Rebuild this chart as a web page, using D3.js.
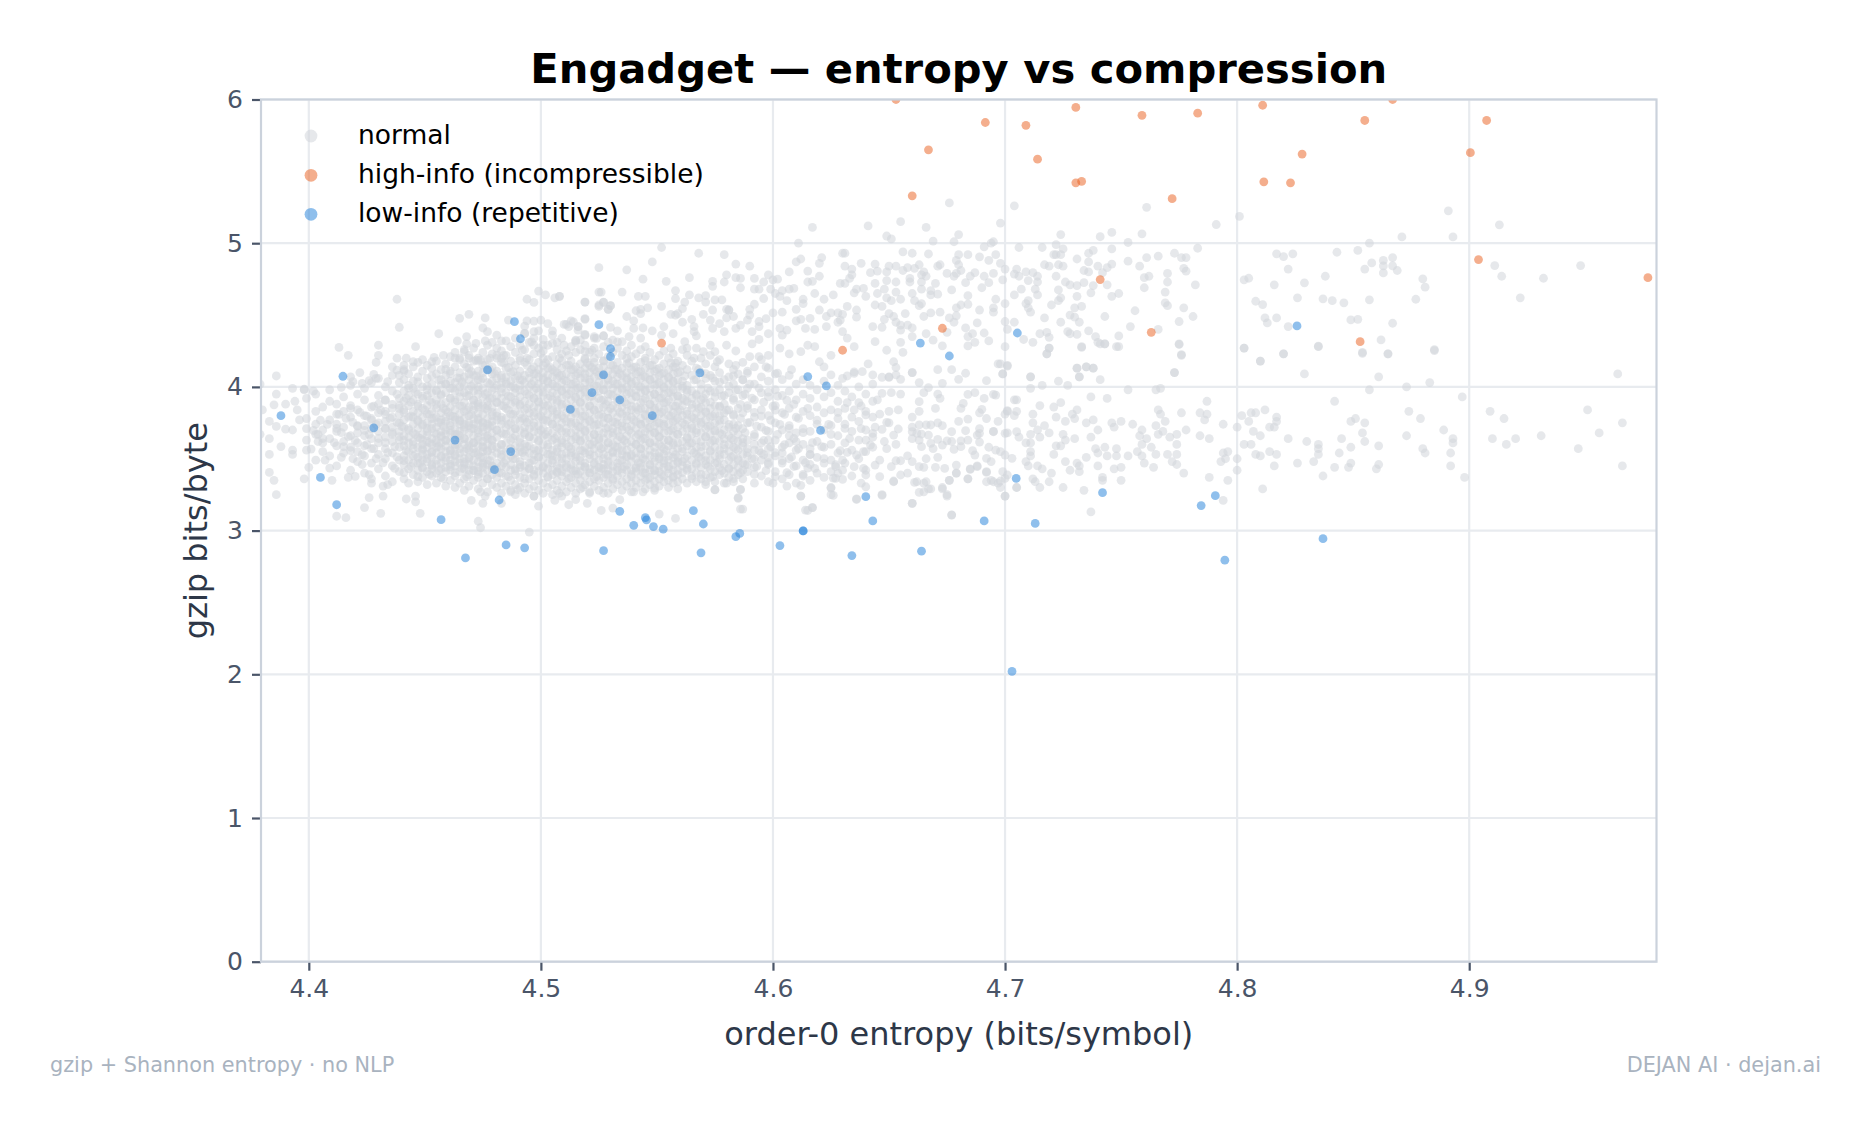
<!DOCTYPE html>
<html>
<head>
<meta charset="utf-8">
<title>Engadget — entropy vs compression</title>
<script src="https://cdn.jsdelivr.net/npm/d3@7"></script>
<style>
  html, body { margin: 0; padding: 0; background: #fff; }
  svg { display: block; }
  text { font-family: "DejaVu Sans", sans-serif; }
</style>
</head>
<body>
<svg id="chart" width="1871" height="1126"></svg>
<script>
// Axis ticks and labels
const xTicks = [4.4, 4.5, 4.6, 4.7, 4.8, 4.9];
const yTicks = [0, 1, 2, 3, 4, 5, 6];
const chartTitle = "Engadget — entropy vs compression";
const xLabel = "order-0 entropy (bits/symbol)";
const yLabel = "gzip bits/byte";
const footLeft = "gzip + Shannon entropy · no NLP";
const footRight = "DEJAN AI · dejan.ai";
const legendLabels = ["normal", "high-info (incompressible)", "low-info (repetitive)"];

// Flagged documents as [entropy, gzip]
const highInfo = [[4.653,6.0],[4.6915,5.84],[4.667,5.65],[4.66,5.33],[4.709,5.82],[4.7305,5.945],[4.714,5.585],[4.7305,5.42],[4.733,5.43],[4.759,5.89],[4.783,5.905],[4.772,5.31],[4.811,5.96],[4.867,6.0],[4.855,5.854],[4.828,5.62],[4.8115,5.427],[4.823,5.42],[4.9075,5.854],[4.9005,5.63],[4.904,4.886],[4.977,4.76],[4.741,4.747],[4.763,4.38],[4.853,4.315],[4.673,4.408],[4.63,4.255],[4.552,4.305]];
const lowInfo = [[4.388,3.8],[4.4147,4.074],[4.428,3.715],[4.405,3.37],[4.412,3.18],[4.477,4.118],[4.463,3.63],[4.487,3.55],[4.48,3.424],[4.482,3.213],[4.457,3.076],[4.485,2.9],[4.493,2.88],[4.4675,2.81],[4.5127,3.843],[4.522,3.96],[4.527,4.083],[4.534,3.91],[4.548,3.8],[4.53,4.21],[4.53,4.266],[4.4912,4.335],[4.4886,4.454],[4.525,4.433],[4.5685,4.097],[4.534,3.134],[4.54,3.037],[4.545,3.09],[4.5455,3.074],[4.5485,3.028],[4.5527,3.01],[4.527,2.86],[4.5657,3.139],[4.57,3.046],[4.569,2.845],[4.584,2.958],[4.5857,2.98],[4.603,2.896],[4.613,2.998],[4.613,2.998],[4.615,4.072],[4.623,4.007],[4.6205,3.697],[4.6635,4.305],[4.676,4.215],[4.7048,3.363],[4.742,3.264],[4.7906,3.243],[4.7845,3.174],[4.837,2.944],[4.7947,2.794],[4.64,3.236],[4.643,3.067],[4.691,3.067],[4.713,3.05],[4.634,2.826],[4.664,2.857],[4.7053,4.375],[4.8258,4.424],[4.703,2.02]];

// Ordinary documents, sparse upper band
const normalUpper = [[4.676,5.28],[4.704,5.26],[4.761,5.25],[4.791,5.13],[4.655,5.15],[4.666,5.11],[4.698,5.14],[4.649,5.05],[4.651,5.03],[4.669,5.015],[4.68,5.06],[4.678,5.01],[4.695,5.01],[4.694,5.0],[4.691,4.975],[4.706,4.97],[4.716,4.97],[4.722,4.99],[4.724,5.06],[4.725,4.96],[4.741,5.045],[4.746,5.075],[4.753,5.005],[4.759,5.065],[4.783,4.965],[4.656,4.94],[4.66,4.93],[4.667,4.925],[4.68,4.92],[4.684,4.92],[4.679,4.88],[4.689,4.905],[4.696,4.92],[4.693,4.88],[4.721,4.92],[4.722,4.92],[4.724,4.92],[4.731,4.89],[4.736,4.93],[4.738,4.95],[4.746,4.96],[4.753,4.875],[4.761,4.9],[4.766,4.91],[4.773,4.93],[4.776,4.9],[4.778,4.9],[4.698,4.86],[4.7,4.82],[4.705,4.82],[4.717,4.85],[4.719,4.84],[4.723,4.85],[4.725,4.84],[4.736,4.87],[4.74,4.84],[4.746,4.855],[4.744,4.83],[4.758,4.84],[4.734,4.81],[4.736,4.8],[4.742,4.795],[4.777,4.825],[4.778,4.805],[4.77,4.79],[4.762,4.77],[4.76,4.76],[4.65,4.84],[4.653,4.84],[4.658,4.83],[4.663,4.85],[4.672,4.85],[4.671,4.84],[4.661,4.825],[4.656,4.81],[4.649,4.8],[4.665,4.8],[4.675,4.79],[4.68,4.85],[4.681,4.81],[4.687,4.795],[4.679,4.79],[4.691,4.77],[4.695,4.79],[4.704,4.785],[4.706,4.77],[4.709,4.8],[4.712,4.795],[4.714,4.77],[4.71,4.74],[4.714,4.73],[4.722,4.77],[4.726,4.73],[4.728,4.71],[4.731,4.705],[4.734,4.725],[4.738,4.705],[4.744,4.71],[4.77,4.73],[4.769,4.66],[4.76,4.69],[4.782,4.71],[4.659,4.755],[4.664,4.78],[4.666,4.77],[4.664,4.73],[4.659,4.73],[4.67,4.72],[4.653,4.73],[4.649,4.74],[4.678,4.77],[4.677,4.675],[4.685,4.77],[4.683,4.725],[4.69,4.69],[4.693,4.725],[4.699,4.745],[4.648,4.68],[4.664,4.68],[4.653,4.66],[4.66,4.65],[4.668,4.67],[4.668,4.64],[4.671,4.645],[4.684,4.635],[4.681,4.57],[4.684,4.575],[4.696,4.61],[4.7,4.58],[4.707,4.68],[4.704,4.64],[4.71,4.6],[4.713,4.68],[4.714,4.64],[4.723,4.675],[4.724,4.62],[4.723,4.6],[4.72,4.57],[4.731,4.63],[4.737,4.655],[4.746,4.63],[4.749,4.65],[4.733,4.56],[4.73,4.55],[4.709,4.58],[4.71,4.55],[4.711,4.52],[4.649,4.62],[4.651,4.6],[4.655,4.61],[4.661,4.6],[4.664,4.58],[4.663,4.565],[4.647,4.56],[4.769,4.585],[4.77,4.565],[4.777,4.55],[4.756,4.53],[4.65,4.51],[4.657,4.51],[4.668,4.515],[4.672,4.52],[4.679,4.55],[4.689,4.535],[4.695,4.55],[4.695,4.52],[4.652,4.49],[4.648,4.47],[4.665,4.49],[4.676,4.48],[4.679,4.495],[4.678,4.45],[4.728,4.5],[4.73,4.485],[4.732,4.45],[4.724,4.45],[4.717,4.48],[4.743,4.49],[4.775,4.455],[4.781,4.49],[4.7,4.455],[4.704,4.45],[4.688,4.445],[4.653,4.45],[4.655,4.43],[4.658,4.43],[4.701,4.4],[4.683,4.41],[4.675,4.38],[4.655,4.395],[4.66,4.41],[4.647,4.415],[4.715,4.37],[4.718,4.38],[4.719,4.345],[4.708,4.33],[4.712,4.31],[4.727,4.385],[4.728,4.37],[4.731,4.365],[4.736,4.39],[4.739,4.35],[4.741,4.3],[4.743,4.3],[4.749,4.355],[4.754,4.42],[4.766,4.4],[4.691,4.375],[4.686,4.37],[4.684,4.35],[4.687,4.31],[4.684,4.285],[4.693,4.32],[4.7,4.28],[4.666,4.37],[4.66,4.35],[4.669,4.325],[4.673,4.285],[4.655,4.31],[4.649,4.255],[4.656,4.24],[4.719,4.27],[4.718,4.23],[4.733,4.275],[4.748,4.28],[4.775,4.295],[4.776,4.225],[4.698,4.16],[4.701,4.145],[4.731,4.13],[4.735,4.14],[4.738,4.13],[4.652,4.175],[4.653,4.135],[4.66,4.1],[4.671,4.12],[4.677,4.12],[4.683,4.095],[4.65,4.07],[4.699,4.09],[4.711,4.07],[4.732,4.07],[4.773,4.1],
[4.552,4.97],[4.548,4.87],[4.568,4.93],[4.579,4.92],[4.584,4.855],[4.59,4.84],[4.525,4.83],[4.537,4.815],[4.544,4.75],[4.554,4.735],[4.564,4.76],[4.574,4.735],[4.574,4.7],[4.58,4.78],[4.579,4.73],[4.584,4.76],[4.586,4.755],[4.586,4.69],[4.592,4.755],[4.592,4.68],[4.594,4.68],[4.596,4.73],[4.598,4.78],[4.599,4.68],[4.6,4.745],[4.602,4.75],[4.611,5.0],[4.617,5.11],[4.641,5.12],[4.61,4.87],[4.612,4.89],[4.621,4.9],[4.62,4.86],[4.63,4.93],[4.631,4.93],[4.607,4.8],[4.615,4.806],[4.62,4.77],[4.615,4.73],[4.617,4.735],[4.631,4.84],[4.634,4.82],[4.638,4.86],[4.644,4.855],[4.642,4.795],[4.645,4.806],[4.634,4.78],[4.633,4.755],[4.629,4.72],[4.631,4.72],[4.604,4.67],[4.601,4.65],[4.603,4.63],[4.607,4.68],[4.609,4.685],[4.618,4.65],[4.622,4.61],[4.626,4.64],[4.635,4.655],[4.636,4.68],[4.639,4.685],[4.64,4.63],[4.644,4.72],[4.645,4.65],[4.606,4.6],[4.613,4.61],[4.613,4.58],[4.61,4.54],[4.62,4.535],[4.604,4.52],[4.625,4.515],[4.628,4.515],[4.632,4.56],[4.63,4.505],[4.636,4.535],[4.636,4.485],[4.644,4.57],[4.596,4.615],[4.592,4.575],[4.59,4.54],[4.581,4.535],[4.578,4.605],[4.575,4.605],[4.571,4.59],[4.568,4.62],[4.571,4.635],[4.564,4.64],[4.562,4.59],[4.558,4.67],[4.558,4.615],[4.545,4.63],[4.542,4.63],[4.535,4.66],[4.526,4.66],[4.519,4.59],[4.527,4.59],[4.525,4.56],[4.53,4.565],[4.529,4.54],[4.508,4.63],[4.546,4.55],[4.543,4.54],[4.541,4.53],[4.543,4.51],[4.552,4.56],[4.561,4.545],[4.556,4.505],[4.558,4.5],[4.559,4.51],[4.574,4.535],[4.57,4.505],[4.58,4.54],[4.581,4.535],[4.583,4.49],[4.58,4.48],[4.59,4.5],[4.589,4.465],[4.586,4.43],[4.594,4.455],[4.597,4.475],[4.6,4.515],[4.537,4.49],[4.54,4.46],[4.519,4.475],[4.511,4.435],[4.513,4.46],[4.516,4.42],[4.565,4.47],[4.561,4.45],[4.573,4.465],[4.53,4.414],[4.533,4.39],[4.54,4.407],[4.544,4.41],[4.548,4.39],[4.553,4.42],[4.557,4.37],[4.552,4.36],[4.566,4.42],[4.566,4.385],[4.567,4.355],[4.574,4.407],[4.577,4.44],[4.579,4.385],[4.584,4.407],[4.591,4.385],[4.594,4.42],[4.598,4.37],[4.603,4.407],[4.606,4.395],[4.604,4.36],[4.61,4.46],[4.612,4.47],[4.614,4.407],[4.616,4.477],[4.618,4.4],[4.623,4.42],[4.623,4.49],[4.628,4.45],[4.63,4.385],[4.632,4.34],[4.629,4.465],[4.635,4.28],[4.643,4.42],[4.644,4.315],[4.562,4.315],[4.563,4.27],[4.543,4.34],[4.538,4.35],[4.523,4.34],[4.515,4.32],[4.519,4.36],[4.527,4.355],[4.531,4.325],[4.535,4.315],[4.545,4.28],[4.556,4.27],[4.558,4.165],[4.57,4.245],[4.573,4.29],[4.575,4.245],[4.58,4.29],[4.584,4.25],[4.591,4.3],[4.594,4.33],[4.59,4.21],[4.594,4.21],[4.598,4.22],[4.603,4.27],[4.607,4.23],[4.612,4.245],[4.615,4.29],[4.618,4.28],[4.625,4.22],[4.566,4.2],[4.576,4.175],[4.584,4.15],[4.589,4.095],[4.597,4.14],[4.602,4.095],[4.608,4.12],[4.62,4.175],[4.622,4.14],[4.635,4.105],[4.641,4.16],
[4.438,4.61],[4.439,4.415],[4.413,4.275],[4.417,4.22],[4.43,4.29],[4.43,4.22],[4.429,4.17],[4.446,4.28],[4.456,4.37],[4.438,4.2],[4.442,4.2],[4.445,4.175],[4.449,4.19],[4.454,4.205],[4.453,4.175],[4.458,4.22],[4.465,4.477],[4.469,4.505],[4.476,4.48],[4.475,4.41],[4.477,4.384],[4.481,4.36],[4.483,4.32],[4.476,4.32],[4.472,4.303],[4.468,4.35],[4.464,4.32],[4.468,4.3],[4.467,4.245],[4.463,4.2],[4.465,4.2],[4.469,4.2],[4.472,4.187],[4.474,4.187],[4.436,4.14],[4.438,4.117],[4.441,4.11],[4.439,4.08],[4.441,4.15],[4.494,4.61],[4.497,4.588],[4.499,4.667],[4.502,4.64],[4.506,4.62],[4.508,4.63],[4.519,4.59],[4.525,4.57],[4.529,4.54],[4.53,4.565],[4.527,4.588],[4.525,4.66],[4.486,4.465],[4.494,4.46],[4.497,4.458],[4.5,4.465],[4.503,4.44],[4.51,4.435],[4.512,4.42],[4.514,4.453],[4.516,4.42],[4.519,4.47],[4.516,4.395],[4.519,4.365],[4.493,4.423],[4.497,4.384],[4.505,4.39],[4.493,4.372],[4.492,4.256],[4.494,4.2],[4.496,4.314],[4.497,4.29],[4.501,4.29],[4.505,4.303],[4.51,4.29],[4.515,4.326],[4.517,4.326],[4.523,4.35],[4.524,4.338],[4.527,4.356],[4.533,4.314],[4.5,4.233],[4.508,4.2],[4.512,4.22],[4.519,4.245],[4.522,4.256],[4.523,4.2],[4.478,4.2],[4.481,4.22],[4.484,4.22]];

// Ordinary documents, sparse band on the high-entropy side
const normalRight = [[4.964,4.09],[4.909,3.83],[4.915,3.78],[4.951,3.84],[4.966,3.75],[4.956,3.68],[4.91,3.64],[4.916,3.6],[4.92,3.64],[4.931,3.66],[4.947,3.57],[4.966,3.45],[4.897,3.93],[4.883,4.03],[4.873,4.0],[4.857,3.98],[4.842,3.9],[4.861,4.07],[4.829,4.09],[4.885,4.26],[4.865,4.23],[4.854,4.24],[4.835,4.28],[4.82,4.23],[4.81,4.18],[4.803,4.27],[4.776,4.22],[4.775,4.3],[4.773,4.1],[4.874,3.83],[4.879,3.78],[4.889,3.7],[4.873,3.66],[4.893,3.64],[4.893,3.61],[4.88,3.57],[4.881,3.54],[4.892,3.54],[4.892,3.45],[4.898,3.37],[4.861,3.59],[4.855,3.62],[4.854,3.68],[4.855,3.75],[4.851,3.78],[4.849,3.76],[4.861,3.46],[4.86,3.43],[4.849,3.47],[4.848,3.44],[4.842,3.44],[4.837,3.38],[4.845,3.64],[4.849,3.58],[4.844,3.54],[4.835,3.6],[4.835,3.57],[4.835,3.53],[4.833,3.48],[4.826,3.47],[4.83,3.62],[4.822,3.64],[4.817,3.79],[4.817,3.76],[4.816,3.72],[4.814,3.72],[4.812,3.84],[4.808,3.82],[4.806,3.82],[4.802,3.8],[4.805,3.76],[4.807,3.69],[4.81,3.66],[4.803,3.6],[4.806,3.6],[4.814,3.55],[4.817,3.53],[4.808,3.53],[4.81,3.52],[4.816,3.45],[4.8,3.5],[4.8,3.42],[4.796,3.35],[4.788,3.37],[4.794,3.21],[4.811,3.29],[4.737,3.13],[4.794,3.54],[4.796,3.55],[4.795,3.5],[4.793,3.48],[4.8,3.72],[4.794,3.74],[4.788,3.64],[4.784,3.66],[4.786,3.77],[4.787,3.81],[4.784,3.82],[4.787,3.9],[4.776,3.82],[4.778,3.7],[4.766,3.84],[4.767,3.81],[4.769,3.76],[4.767,3.99],[4.765,3.98],[4.753,3.98],[4.744,3.92],[4.737,3.93],[4.724,3.89],[4.721,3.86],[4.715,3.87],[4.704,3.91],[4.716,4.01],[4.711,3.99],[4.727,4.01],[4.723,4.04],[4.732,4.07],[4.741,4.05],[4.711,4.07],[4.731,4.13],[4.735,4.14],[4.738,4.13],[4.718,4.23],[4.719,4.27],[4.733,4.28],[4.74,4.31],[4.743,4.3],[4.749,4.28],[4.701,4.15],[4.697,4.16],[4.699,4.09],[4.712,3.81],[4.705,3.83],[4.704,3.8],[4.701,3.83],[4.697,3.76],[4.692,3.78],[4.731,3.84],[4.729,3.81],[4.726,3.76],[4.722,3.79],[4.717,3.73],[4.712,3.75],[4.73,3.78],[4.735,3.75],[4.738,3.77],[4.74,3.7],[4.746,3.75],[4.75,3.76],[4.755,3.74],[4.747,3.72],[4.759,3.7],[4.758,3.66],[4.761,3.64],[4.766,3.67],[4.768,3.69],[4.771,3.65],[4.774,3.67],[4.765,3.73],[4.725,3.67],[4.714,3.7],[4.711,3.67],[4.706,3.65],[4.701,3.68],[4.695,3.69],[4.689,3.71],[4.719,3.68],[4.715,3.65],[4.726,3.63],[4.73,3.64],[4.737,3.65],[4.722,3.59],[4.724,3.59],[4.711,3.61],[4.709,3.61],[4.711,3.55],[4.711,3.52],[4.721,3.53],[4.739,3.57],[4.743,3.58],[4.74,3.54],[4.744,3.52],[4.748,3.57],[4.748,3.52],[4.753,3.52],[4.757,3.55],[4.763,3.58],[4.759,3.6],[4.759,3.52],[4.765,3.53],[4.77,3.53],[4.774,3.6],[4.774,3.53],[4.76,3.47],[4.764,3.44],[4.772,3.48],[4.774,3.46],[4.777,3.4],[4.735,3.51],[4.732,3.45],[4.731,3.47],[4.728,3.42],[4.726,3.48],[4.732,3.41],[4.74,3.45],[4.747,3.43],[4.75,3.44],[4.742,3.37],[4.742,3.35],[4.75,3.35],[4.734,3.28],[4.725,3.3],[4.719,3.34],[4.72,3.4],[4.716,3.43],[4.714,3.45],[4.71,3.45],[4.709,3.48],[4.713,3.34],[4.712,3.36],[4.715,3.3],[4.705,3.3],[4.7,3.24],[4.697,3.33],[4.694,3.35],[4.692,3.41],[4.688,3.45],[4.685,3.43],[4.684,3.36],[4.676,3.35],[4.679,3.4],[4.677,3.11],[4.66,3.19],[4.647,3.25],[4.636,3.22],[4.675,3.25],[4.673,3.29],[4.668,3.29],[4.665,3.27],[4.666,3.34],[4.662,3.34],[4.652,3.34],
[4.801,5.186],[4.891,5.225],[4.913,5.128],[4.871,5.044],[4.893,5.044],[4.857,5.0],[4.852,4.95],[4.843,4.937],[4.817,4.926],[4.82,4.907],[4.824,4.926],[4.863,4.88],[4.867,4.9],[4.858,4.863],[4.863,4.842],[4.867,4.842],[4.869,4.81],[4.855,4.82],[4.863,4.793],[4.822,4.82],[4.838,4.77],[4.88,4.752],[4.829,4.724],[4.816,4.71],[4.805,4.756],[4.803,4.745],[4.881,4.694],[4.877,4.61],[4.857,4.606],[4.846,4.585],[4.841,4.6],[4.837,4.613],[4.826,4.62],[4.808,4.596],[4.811,4.573],[4.911,4.844],[4.914,4.77],[4.948,4.844],[4.932,4.756],[4.922,4.62],[4.812,4.48],[4.817,4.48],[4.813,4.445],[4.822,4.42],[4.849,4.466],[4.852,4.47],[4.867,4.443],[4.862,4.327],[4.835,4.283],[4.803,4.27],[4.82,4.23],[4.854,4.234],[4.865,4.23],[4.885,4.253],[4.81,4.18]];

// Ordinary documents, middle band and the lower and left edges of the cloud
const normalMiddle = [[4.625,4.083],[4.63,4.06],[4.632,4.076],[4.635,4.094],[4.6385,4.106],[4.643,4.083],[4.647,4.067],[4.65,4.067],[4.653,4.083],[4.655,4.053],[4.66,4.1],[4.68,4.053],[4.692,4.043],[4.632,3.89],[4.638,3.867],[4.635,3.84],[4.64,3.805],[4.646,3.81],[4.65,3.83],[4.654,3.84],[4.645,3.91],[4.647,3.955],[4.651,3.96],[4.655,3.95],[4.665,3.96],[4.667,3.995],[4.663,4.03],[4.673,4.025],[4.671,3.95],[4.672,3.92],[4.663,3.897],[4.67,3.85],[4.663,3.83],[4.66,3.79],[4.682,3.885],[4.681,3.85],[4.684,3.948],[4.687,3.96],[4.695,3.948],[4.696,3.943],[4.691,3.92],[4.705,3.91],[4.69,3.844],[4.689,3.82],[4.701,3.835],[4.7,3.81],[4.684,3.776],[4.68,3.76],[4.671,3.75],[4.668,3.735],[4.666,3.735],[4.663,3.735],[4.66,3.72],[4.673,3.73],[4.649,3.753],[4.65,3.75],[4.654,3.707],[4.647,3.705],[4.644,3.72],[4.66,3.688],[4.662,3.677],[4.664,3.672],[4.667,3.665],[4.677,3.688],[4.683,3.695],[4.689,3.677],[4.688,3.665],[4.695,3.688],[4.7,3.677],[4.705,3.688],[4.66,3.64],[4.663,3.63],[4.664,3.584],[4.668,3.607],[4.671,3.635],[4.675,3.625],[4.677,3.62],[4.681,3.625],[4.684,3.63],[4.689,3.616],[4.673,3.595],[4.669,3.57],[4.678,3.565],[4.681,3.584],[4.686,3.556],[4.687,3.526],[4.693,3.58],[4.696,3.56],[4.698,3.55],[4.7,3.526],[4.703,3.503],[4.692,3.503],[4.694,3.48],[4.653,3.6],[4.649,3.57],[4.652,3.665],[4.648,3.62],[4.643,3.677],[4.638,3.71],[4.64,3.63],[4.642,3.595],[4.639,3.55],[4.636,3.526],[4.632,3.544],[4.646,3.49],[4.644,3.456],[4.635,3.445],[4.63,3.49],[4.627,3.445],[4.625,3.41],[4.627,3.363],[4.63,3.356],[4.625,3.3],[4.639,3.433],[4.64,3.387],[4.64,3.305],[4.638,3.33],[4.646,3.375],[4.651,3.445],[4.653,3.486],[4.655,3.486],[4.658,3.52],[4.66,3.48],[4.663,3.445],[4.665,3.44],[4.666,3.5],[4.671,3.51],[4.674,3.433],[4.67,3.44],[4.658,3.4],[4.655,3.387],[4.652,3.345],[4.661,3.335],[4.665,3.33],[4.667,3.29],[4.663,3.266],[4.673,3.3],[4.675,3.24],[4.676,3.35],[4.679,3.4],[4.679,3.456],[4.684,3.36],[4.685,3.426],[4.688,3.445],[4.692,3.405],[4.692,3.34],[4.695,3.34],[4.698,3.345],[4.698,3.3],[4.699,3.41],[4.7,3.363],[4.701,3.387],[4.7,3.24],[4.705,3.3],[4.626,3.245],[4.636,3.217],[4.647,3.245],[4.66,3.19],[4.677,3.108],[4.617,3.16],[4.614,3.143],[4.612,3.24],[4.586,3.15],[4.585,3.225],[4.586,3.287],[4.575,3.283],
[4.398,3.985],[4.402,3.97],[4.414,3.997],[4.418,4.07],[4.419,4.036],[4.422,4.1],[4.423,4.025],[4.426,4.043],[4.428,4.087],[4.429,4.06],[4.434,4.036],[4.379,4.02],[4.386,4.076],[4.386,3.95],[4.393,3.99],[4.398,3.98],[4.385,3.875],[4.39,3.88],[4.38,3.84],[4.383,3.76],[4.386,3.725],[4.379,3.67],[4.383,3.64],[4.388,3.585],[4.383,3.53],[4.383,3.405],[4.385,3.35],[4.386,3.25],[4.39,3.706],[4.393,3.7],[4.396,3.77],[4.395,3.84],[4.394,3.9],[4.393,3.56],[4.393,3.53],[4.401,3.567],[4.4,3.44],[4.398,3.36],[4.41,3.35],[4.412,3.1],[4.416,3.09],[4.404,3.62],[4.407,3.49],[4.409,3.435],[4.414,3.51],[4.419,3.5],[4.423,3.46],[4.417,3.37],[4.42,3.377],[4.426,3.39],[4.427,3.33],[4.432,3.31],[4.434,3.32],[4.426,3.23],[4.432,3.24],[4.424,3.16],[4.431,3.12],[4.442,3.22],[4.446,3.2],[4.448,3.12],[4.446,3.24],[4.473,3.065],[4.474,3.02],[4.495,2.99],[4.47,3.21],[4.475,3.19],[4.474,3.27],[4.476,3.24],[4.483,3.19],[4.487,3.27],[4.49,3.285],[4.497,3.24],[4.499,3.17],[4.506,3.21],[4.512,3.18],[4.515,3.215],[4.52,3.19],[4.508,3.26],[4.518,3.3],[4.521,3.26],[4.526,3.14],[4.531,3.157],[4.534,3.215],[4.527,3.26],[4.551,3.115],[4.558,3.085],[4.54,3.27],[4.544,3.27],[4.549,3.296],[4.571,3.34],[4.575,3.285],[4.585,3.23],[4.587,3.15],[4.615,3.14],[4.617,3.16],[4.612,3.24],[4.625,3.25],[4.625,3.296],[4.58,3.33],[4.586,3.285],[4.6,3.33],[4.606,3.31],[4.612,3.315],[4.615,3.435],[4.626,3.365],[4.63,3.42]];

// Dense core of the cloud: gzip readings listed per entropy column
const coreColumns = [
[4.399,[3.63,3.78,3.71,3.92,3.56]],[4.403,[3.49,3.67,3.83,3.95,3.74]],[4.406,[3.61,3.86,3.7,3.55]],[4.409,[3.77,3.52,3.9,3.64,3.98]],[4.412,[3.45,3.69,3.81,3.59,3.88,3.74]],[4.415,[3.62,3.93,3.54,3.72,3.83]],[4.418,[3.42,3.58,3.79,3.66,3.87,4.01]],
[4.421,[3.48,3.73,3.61,3.95,3.84,3.55,3.68]],[4.424,[3.4,3.66,3.52,3.8,3.91,3.73,3.99,3.59]],[4.427,[3.36,3.57,3.71,3.47,3.86,4.03,3.64,3.78]],[4.43,[3.43,3.69,3.53,3.82,3.61,3.94,3.75,4.06,3.88]],[4.433,[3.38,3.5,3.76,3.65,3.91,3.57,4.0,3.83,3.71]],[4.436,[3.45,3.62,3.34,3.85,3.72,3.54,3.97,4.08,3.67,3.79]],[4.439,[3.41,3.58,3.81,3.49,3.69,3.92,4.03,3.63,3.75,3.87]],
[4.441,[3.36,3.52,3.66,3.46,3.77,3.9,3.59,4.05,3.84,3.72,3.97,4.12]],[4.443,[3.43,3.61,3.33,3.71,3.55,3.87,3.49,4.01,3.79,3.94,4.09,3.65]],[4.445,[3.39,3.57,3.47,3.68,3.83,3.62,3.99,3.74,3.52,3.91,4.14,4.04,3.79]],[4.447,[3.34,3.51,3.65,3.42,3.76,3.58,3.88,3.71,4.07,3.95,3.82,3.47,4.17]],[4.449,[3.44,3.37,3.6,3.53,3.73,3.85,3.67,4.0,3.92,3.79,3.56,4.11,3.49,3.63]],
[4.451,[3.32,3.48,3.58,3.41,3.69,3.81,3.62,3.94,3.75,3.53,4.06,3.87,4.15,3.66,3.98]],[4.453,[3.38,3.55,3.45,3.64,3.78,3.51,3.89,3.71,4.02,3.6,3.83,4.13,3.96,3.43,3.74]],[4.455,[3.33,3.46,3.61,3.54,3.72,3.4,3.85,3.67,3.97,3.79,4.09,3.58,3.91,4.18,3.49,3.63]],[4.457,[3.37,3.52,3.43,3.66,3.75,3.57,3.88,3.69,4.01,3.82,3.61,4.12,3.94,3.47,3.77,4.05]],[4.459,[3.31,3.44,3.59,3.51,3.7,3.84,3.63,3.96,3.76,4.08,3.55,3.89,4.16,3.41,3.67,4.02,3.79]],
[4.461,[3.35,3.49,3.42,3.62,3.73,3.56,3.86,3.68,3.99,3.8,4.11,3.92,3.53,4.21,3.46,3.75,4.04]],[4.463,[3.3,3.45,3.38,3.58,3.67,3.52,3.79,3.91,3.71,4.03,3.84,3.6,4.14,3.97,3.48,4.24,3.65,3.77]],[4.465,[3.33,3.54,3.41,3.63,3.47,3.74,3.87,3.69,4.0,3.81,4.1,3.93,3.57,4.19,3.5,3.76,4.06,3.66]],[4.467,[3.36,3.28,3.5,3.43,3.6,3.72,3.55,3.83,3.96,3.78,4.07,3.89,4.16,3.64,4.01,3.46,3.7,4.26]],[4.469,[3.31,3.46,3.39,3.56,3.68,3.51,3.8,3.62,3.94,3.75,4.05,3.86,4.13,3.98,3.59,4.22,3.42,3.73,4.09]],
[4.471,[3.35,3.49,3.42,3.61,3.54,3.71,3.84,3.66,3.97,3.78,4.08,3.91,4.18,3.57,4.02,3.45,3.74,4.27,3.87]],[4.473,[3.29,3.44,3.37,3.53,3.65,3.48,3.77,3.59,3.89,3.7,4.0,3.82,4.11,3.95,4.2,3.63,3.41,4.05,3.74,3.86]],[4.475,[3.33,3.47,3.4,3.58,3.51,3.69,3.81,3.62,3.93,3.75,4.06,3.87,4.15,3.99,4.24,3.55,3.44,3.72,4.1]],[4.477,[3.27,3.42,3.36,3.55,3.49,3.66,3.78,3.6,3.9,3.71,4.03,3.84,4.12,3.96,4.29,4.19,3.64,3.46,3.74,3.87]],[4.479,[3.32,3.45,3.39,3.57,3.52,3.68,3.8,3.63,3.92,3.73,4.04,3.86,4.14,3.98,4.23,3.59,3.43,4.09,3.76,4.31]],
[4.481,[3.3,3.43,3.37,3.54,3.47,3.65,3.77,3.58,3.89,3.7,4.01,3.82,4.11,3.94,4.2,4.06,4.27]],[4.483,[3.26,3.4,3.33,3.51,3.45,3.6,3.74,3.56,3.87,3.68,3.99,3.79,4.08,3.92,4.17,4.03,4.25]],[4.485,[3.31,3.44,3.38,3.55,3.49,3.67,3.78,3.61,3.9,3.72,4.02,3.85,4.13,3.96,4.22,4.07,4.32]],[4.487,[3.28,3.42,3.35,3.52,3.46,3.63,3.75,3.57,3.88,3.69,4.0,3.81,4.1,3.93,4.18,4.04,4.28]],[4.489,[3.25,3.39,3.32,3.5,3.43,3.59,3.71,3.54,3.83,3.66,3.96,3.77,4.06,3.89,4.15,3.99,4.24,4.34]],
[4.491,[3.3,3.44,3.37,3.55,3.48,3.64,3.76,3.58,3.87,3.7,4.01,3.81,4.11,3.93,4.2,4.05,4.29]],[4.493,[3.26,3.41,3.33,3.52,3.45,3.6,3.72,3.56,3.84,3.67,3.97,3.78,4.08,3.9,4.17,4.03,4.26,4.37]],[4.495,[3.29,3.43,3.36,3.54,3.47,3.65,3.77,3.59,3.88,3.71,4.0,3.82,4.1,3.94,4.19,4.06,4.31]],[4.497,[3.24,3.38,3.31,3.49,3.42,3.57,3.69,3.53,3.8,3.64,3.92,3.75,4.04,3.86,4.14,3.98,4.23,4.09,4.34]],[4.499,[3.28,3.41,3.35,3.51,3.45,3.62,3.73,3.56,3.85,3.68,3.96,3.79,4.07,3.9,4.17,4.02,4.27,4.12,4.39]],
[4.501,[3.26,3.4,3.33,3.5,3.44,3.6,3.71,3.55,3.83,3.66,3.94,3.77,4.05,3.88,4.15,4.0,4.25,4.1,4.33]],[4.503,[3.3,3.43,3.37,3.53,3.47,3.65,3.76,3.58,3.87,3.69,3.99,3.81,4.08,3.92,4.19,4.04,4.29,4.13]],[4.505,[3.25,3.39,3.32,3.49,3.42,3.56,3.68,3.52,3.79,3.63,3.91,3.74,4.02,3.85,4.12,3.96,4.21,4.07,4.36]],[4.507,[3.28,3.41,3.35,3.51,3.45,3.61,3.72,3.55,3.83,3.66,3.95,3.78,4.06,3.89,4.16,4.0,4.26,4.1,4.31]],[4.509,[3.24,3.38,3.31,3.47,3.41,3.58,3.69,3.53,3.8,3.63,3.92,3.75,4.03,3.86,4.13,3.97,4.23,4.08,4.34]],
[4.511,[3.27,3.4,3.34,3.5,3.44,3.6,3.71,3.54,3.82,3.65,3.94,3.76,4.04,3.88,4.15,3.99,4.25,4.09]],[4.513,[3.3,3.43,3.37,3.52,3.46,3.63,3.74,3.57,3.85,3.68,3.97,3.79,4.07,3.91,4.18,4.02,4.28,4.12]],[4.515,[3.26,3.39,3.33,3.48,3.42,3.59,3.7,3.53,3.81,3.64,3.93,3.75,4.03,3.87,4.14,3.98,4.24,4.08,4.31]],[4.517,[3.29,3.41,3.35,3.51,3.45,3.62,3.72,3.56,3.83,3.67,3.95,3.77,4.06,3.89,4.16,4.0,4.26,4.11]],[4.519,[3.32,3.44,3.38,3.54,3.47,3.64,3.75,3.58,3.86,3.69,3.98,3.8,4.09,3.92,4.19,4.03,4.29,4.13]],
[4.521,[3.27,3.4,3.34,3.5,3.43,3.6,3.71,3.55,3.82,3.65,3.93,3.76,4.05,3.87,4.15,3.99,4.24,4.1]],[4.523,[3.31,3.42,3.36,3.52,3.46,3.62,3.73,3.57,3.84,3.67,3.96,3.78,4.07,3.9,4.17,4.01,4.27,4.12]],[4.525,[3.28,3.41,3.35,3.49,3.44,3.59,3.69,3.54,3.8,3.63,3.92,3.74,4.03,3.85,4.13,3.97,4.23,4.08]],[4.527,[3.3,3.43,3.37,3.53,3.46,3.64,3.75,3.58,3.86,3.68,3.98,3.79,4.09,3.91,4.18,4.02,4.28,4.14]],[4.529,[3.26,3.39,3.33,3.48,3.42,3.57,3.67,3.52,3.78,3.61,3.9,3.72,4.01,3.83,4.11,3.95,4.21,4.06,4.31]],
[4.531,[3.29,3.41,3.35,3.51,3.45,3.6,3.71,3.55,3.82,3.66,3.94,3.76,4.04,3.87,4.15,3.99,4.24,4.09]],[4.533,[3.32,3.44,3.38,3.54,3.47,3.63,3.74,3.58,3.85,3.69,3.97,3.79,4.07,3.9,4.17,4.02,4.27,4.12]],[4.535,[3.28,3.4,3.34,3.49,3.43,3.59,3.7,3.53,3.81,3.64,3.92,3.75,4.03,3.86,4.13,3.98,4.22,4.08]],[4.537,[3.31,3.42,3.36,3.52,3.46,3.61,3.72,3.56,3.83,3.66,3.95,3.77,4.05,3.88,4.16,4.0,4.25,4.1]],[4.539,[3.27,3.39,3.33,3.48,3.42,3.58,3.68,3.52,3.79,3.62,3.91,3.73,4.02,3.84,4.12,3.96,4.21,4.07,4.29]],
[4.541,[3.3,3.41,3.35,3.5,3.44,3.6,3.71,3.54,3.82,3.65,3.93,3.76,4.04,3.86,4.14,3.98,4.23,4.09]],[4.543,[3.33,3.44,3.38,3.53,3.47,3.63,3.74,3.57,3.85,3.68,3.96,3.78,4.06,3.89,4.17,4.0,4.26,4.11]],[4.545,[3.29,3.4,3.35,3.49,3.43,3.59,3.69,3.53,3.8,3.64,3.92,3.75,4.02,3.85,4.13,3.97,4.2,4.07]],[4.547,[3.32,3.42,3.37,3.52,3.46,3.61,3.72,3.56,3.83,3.67,3.94,3.77,4.05,3.88,4.15,3.99,4.24,4.1]],[4.549,[3.28,3.39,3.34,3.48,3.42,3.58,3.68,3.51,3.79,3.62,3.9,3.73,4.01,3.84,4.11,3.95,4.19,4.06]],
[4.551,[3.31,3.41,3.36,3.5,3.45,3.6,3.7,3.54,3.81,3.65,3.92,3.75,4.03,3.86,4.13,3.97,4.22,4.08]],[4.553,[3.34,3.44,3.38,3.53,3.47,3.63,3.74,3.57,3.84,3.68,3.95,3.78,4.05,3.89,4.16,4.0,4.25,4.1]],[4.555,[3.3,3.4,3.35,3.49,3.43,3.59,3.69,3.52,3.8,3.63,3.91,3.74,4.02,3.85,4.12,3.96,4.2,4.07]],[4.557,[3.33,3.42,3.37,3.51,3.46,3.61,3.71,3.55,3.82,3.66,3.93,3.76,4.04,3.87,4.14,3.98,4.23,4.09]],[4.559,[3.29,3.39,3.34,3.48,3.42,3.57,3.67,3.51,3.78,3.61,3.89,3.72,4.0,3.83,4.1,3.94,4.18,4.05]],
[4.561,[3.36,3.45,3.55,3.69,3.48,3.8,3.62,3.92,3.75,4.04,3.87,4.15,3.99,4.26]],[4.563,[3.33,3.42,3.52,3.65,3.46,3.77,3.59,3.9,3.71,4.01,3.83,4.12,3.96,4.22]],[4.565,[3.38,3.49,3.61,3.43,3.73,3.56,3.85,3.67,3.97,3.79,4.08,3.92,4.18]],[4.567,[3.34,3.47,3.58,3.4,3.7,3.53,3.82,3.63,3.94,3.76,4.05,3.88,4.13,4.27]],[4.569,[3.36,3.5,3.62,3.44,3.74,3.55,3.86,3.68,3.98,3.8,4.1,3.91,4.2]],
[4.571,[3.32,3.46,3.59,3.39,3.71,3.52,3.83,3.65,3.95,3.77,4.06,3.89,4.16]],[4.573,[3.37,3.49,3.61,3.43,3.73,3.55,3.85,3.67,3.97,3.79,4.08,4.22]],[4.575,[3.34,3.47,3.58,3.41,3.69,3.52,3.81,3.63,3.93,3.75,4.04,3.87,4.14]],[4.577,[3.39,3.5,3.62,3.44,3.74,3.56,3.86,3.68,3.98,3.8,4.1,4.19]],[4.579,[3.33,3.46,3.57,3.4,3.7,3.53,3.82,3.64,3.94,3.77,4.05,3.88]],
[4.581,[3.37,3.49,3.6,3.43,3.72,3.55,3.84,3.66,3.96,4.07,4.16]],[4.583,[3.34,3.46,3.58,3.41,3.69,3.52,3.8,3.63,3.92,3.74,4.02,4.12]],[4.585,[3.39,3.5,3.62,3.44,3.73,3.56,3.85,3.67,3.98,4.09]],[4.587,[3.36,3.47,3.59,3.42,3.71,3.53,3.82,3.64,3.94,4.05,4.17]],[4.589,[3.41,3.52,3.63,3.46,3.75,3.57,3.87,3.99,4.11]],
[4.592,[3.33,3.44,3.56,3.67,3.5,3.79,3.6,3.91,4.02,4.14]],[4.595,[3.38,3.49,3.61,3.72,3.54,3.84,3.96,4.07,4.19]],[4.598,[3.34,3.46,3.57,3.69,3.51,3.8,3.63,3.93,4.04,4.13]],[4.601,[3.41,3.52,3.63,3.75,3.87,3.98,4.09]],[4.604,[3.36,3.47,3.58,3.7,3.54,3.82,3.94,4.05]],
[4.607,[3.39,3.5,3.61,3.73,3.85,3.66,3.97,4.08]],[4.61,[3.33,3.45,3.56,3.68,3.79,3.91,3.62,4.02]],[4.613,[3.38,3.49,3.6,3.71,3.83,3.95,4.05]],[4.616,[3.35,3.46,3.57,3.69,3.8,3.53,3.92,4.01]],[4.619,[3.4,3.51,3.62,3.74,3.86,3.98]],
[4.622,[3.37,3.47,3.58,3.7,3.82,3.93,4.04]],[4.625,[3.49,3.6,3.73,3.84,3.96]],[4.628,[3.4,3.54,3.66,3.78,3.9,4.01]],[4.631,[3.47,3.61,3.74,3.85,3.97]],[4.634,[3.38,3.56,3.69,3.79,3.93]],[4.637,[3.5,3.63,3.76,3.89,4.0]],[4.64,[3.42,3.55,3.7,3.83,3.95]],[4.643,[3.58,3.65,3.79,3.9,4.02]]
];

// Dense core again, entropy readings listed per gzip row
const coreRows = [
[3.362,[4.458,4.477,4.493,4.512,4.531,4.546,4.565,4.583]],[3.376,[4.447,4.468,4.486,4.503,4.524,4.539,4.557,4.574,4.601]],[3.391,[4.452,4.473,4.497,4.516,4.528,4.552,4.569,4.592,4.613]],[3.404,[4.441,4.463,4.482,4.507,4.521,4.544,4.561,4.586,4.606]],[3.417,[4.456,4.471,4.489,4.514,4.533,4.549,4.578,4.597]],[3.433,[4.437,4.449,4.466,4.495,4.508,4.526,4.541,4.563,4.581,4.618]],[3.446,[4.444,4.461,4.479,4.501,4.519,4.536,4.555,4.572,4.593,4.609]],[3.459,[4.453,4.475,4.491,4.511,4.529,4.547,4.567,4.588,4.627]],[3.472,[4.432,4.448,4.467,4.484,4.505,4.523,4.542,4.559,4.576,4.598,4.614]],[3.487,[4.441,4.459,4.478,4.496,4.517,4.534,4.553,4.571,4.585,4.604]],
[3.501,[4.429,4.451,4.469,4.488,4.509,4.527,4.544,4.562,4.591,4.622]],[3.513,[4.438,4.457,4.474,4.499,4.515,4.537,4.551,4.568,4.582,4.608]],[3.528,[4.423,4.446,4.463,4.483,4.504,4.521,4.539,4.558,4.577,4.596,4.616]],[3.543,[4.434,4.453,4.472,4.492,4.513,4.531,4.549,4.566,4.589,4.601]],[3.557,[4.418,4.442,4.461,4.477,4.498,4.518,4.535,4.554,4.573,4.594,4.629]],[3.571,[4.428,4.449,4.468,4.487,4.507,4.526,4.543,4.561,4.584,4.611]],[3.585,[4.415,4.437,4.456,4.475,4.494,4.512,4.532,4.552,4.569,4.599,4.621]],[3.598,[4.425,4.445,4.464,4.483,4.503,4.522,4.541,4.557,4.579,4.605]],[3.612,[4.411,4.433,4.452,4.471,4.491,4.509,4.529,4.547,4.564,4.587,4.617]],[3.627,[4.42,4.441,4.459,4.479,4.499,4.517,4.536,4.555,4.574,4.596]],
[3.641,[4.406,4.43,4.448,4.467,4.488,4.506,4.525,4.544,4.563,4.582,4.609,4.633]],[3.654,[4.417,4.439,4.457,4.476,4.495,4.515,4.534,4.551,4.571,4.592]],[3.669,[4.404,4.426,4.446,4.464,4.484,4.502,4.523,4.542,4.559,4.578,4.602,4.625]],[3.682,[4.414,4.436,4.454,4.473,4.493,4.511,4.531,4.549,4.567,4.588,4.613]],[3.697,[4.402,4.424,4.443,4.461,4.481,4.5,4.519,4.538,4.556,4.575,4.597]],[3.711,[4.412,4.433,4.451,4.47,4.489,4.508,4.528,4.546,4.565,4.584,4.607,4.631]],[3.726,[4.421,4.44,4.458,4.478,4.497,4.516,4.535,4.553,4.572,4.593]],[3.739,[4.408,4.429,4.449,4.467,4.486,4.505,4.524,4.543,4.562,4.581,4.603,4.624]],[3.753,[4.419,4.438,4.456,4.475,4.494,4.513,4.532,4.55,4.569,4.59]],[3.768,[4.405,4.427,4.447,4.465,4.483,4.502,4.521,4.54,4.558,4.577,4.599,4.619]],
[3.781,[4.416,4.435,4.454,4.473,4.492,4.51,4.529,4.548,4.566,4.586,4.611]],[3.796,[4.425,4.444,4.462,4.481,4.5,4.518,4.537,4.556,4.574,4.595]],[3.809,[4.413,4.433,4.452,4.47,4.488,4.507,4.526,4.545,4.563,4.583,4.605]],[3.823,[4.422,4.441,4.46,4.479,4.497,4.515,4.534,4.552,4.571,4.592,4.628]],[3.838,[4.431,4.45,4.468,4.486,4.505,4.523,4.542,4.56,4.58,4.601]],[3.851,[4.418,4.439,4.458,4.476,4.494,4.512,4.53,4.549,4.568,4.589,4.615]],[3.866,[4.428,4.447,4.466,4.484,4.502,4.521,4.539,4.558,4.577,4.6]],[3.879,[4.436,4.455,4.473,4.491,4.509,4.528,4.547,4.565,4.586,4.609]],[3.894,[4.444,4.463,4.481,4.499,4.517,4.536,4.554,4.573,4.596]],[3.907,[4.433,4.452,4.471,4.489,4.507,4.526,4.544,4.562,4.583,4.606]],
[3.921,[4.442,4.461,4.478,4.497,4.515,4.533,4.552,4.57,4.591]],[3.936,[4.449,4.468,4.486,4.504,4.522,4.541,4.559,4.578,4.602]],[3.949,[4.438,4.457,4.476,4.494,4.512,4.53,4.549,4.567,4.588]],[3.964,[4.446,4.465,4.483,4.501,4.519,4.538,4.556,4.575,4.598]],[3.977,[4.455,4.473,4.491,4.509,4.527,4.545,4.563,4.584]],[3.992,[4.443,4.462,4.48,4.498,4.516,4.535,4.553,4.572,4.594]],[4.006,[4.451,4.47,4.488,4.506,4.524,4.542,4.561,4.581]],[4.019,[4.459,4.478,4.496,4.514,4.532,4.55,4.569,4.59]],[4.034,[4.447,4.466,4.485,4.503,4.521,4.539,4.557,4.577]],[4.048,[4.456,4.474,4.492,4.51,4.529,4.547,4.566,4.587]],
[4.063,[4.464,4.483,4.501,4.519,4.537,4.555,4.574]],[4.077,[4.453,4.472,4.49,4.508,4.526,4.544,4.562,4.583]],[4.092,[4.461,4.48,4.498,4.516,4.534,4.552,4.571]],[4.106,[4.47,4.488,4.506,4.524,4.542,4.56]],[4.121,[4.459,4.478,4.496,4.514,4.532,4.55,4.568]],[4.136,[4.468,4.486,4.504,4.522,4.54,4.558]],[4.152,[4.476,4.494,4.512,4.53,4.548]],[4.167,[4.484,4.502,4.52,4.538,4.556]],[4.183,[4.473,4.491,4.509,4.527,4.545]],[4.199,[4.483,4.501,4.519,4.537]]
];

// Marker styling per class
const classStyles = [
  { fill: "#d1d5db", opacity: 0.55 },
  { fill: "#e96425", opacity: 0.52 },
  { fill: "#1f7fd9", opacity: 0.5 }
];

const margin = { left: 261, right: 1656.5, top: 99.5, bottom: 961.7 };
const x = d3.scaleLinear().domain([4.3794, 4.9807]).range([margin.left, margin.right]);
const y = d3.scaleLinear().domain([0, 6]).range([margin.bottom, margin.top]);

const svg = d3.select("#chart");
const frameColor = "#cbd2dc", gridColor = "#e8ebef", tickColor = "#4a5568";

svg.append("clipPath").attr("id", "plot-clip").append("rect")
  .attr("x", margin.left).attr("y", margin.top)
  .attr("width", margin.right - margin.left).attr("height", margin.bottom - margin.top);

// Grid sits under the points
const grid = svg.append("g");
grid.selectAll("line.v").data(xTicks).join("line").attr("class", "v")
  .attr("x1", d => x(d)).attr("x2", d => x(d)).attr("y1", margin.top).attr("y2", margin.bottom)
  .attr("stroke", gridColor).attr("stroke-width", 2.2);
grid.selectAll("line.h").data(yTicks).join("line").attr("class", "h")
  .attr("y1", d => y(d)).attr("y2", d => y(d)).attr("x1", margin.left).attr("x2", margin.right)
  .attr("stroke", gridColor).attr("stroke-width", 2.2);

// Point layers, normal cloud first and flagged documents above it
const normal = [
  ...normalUpper, ...normalRight, ...normalMiddle,
  ...coreColumns.flatMap(([e, gz]) => gz.map(g => [e, g])),
  ...coreRows.flatMap(([g, es]) => es.map(e => [e, g]))
];
const layers = [normal, highInfo, lowInfo];
const plot = svg.append("g").attr("clip-path", "url(#plot-clip)");
layers.forEach((pts, i) => {
  plot.append("g").selectAll("circle").data(pts).join("circle")
    .attr("cx", d => x(d[0])).attr("cy", d => y(d[1])).attr("r", 4.4)
    .attr("fill", classStyles[i].fill).attr("fill-opacity", classStyles[i].opacity);
});

// Axes
const xAxis = d3.axisBottom(x).tickValues(xTicks).tickFormat(d3.format(".1f")).tickSize(9).tickPadding(9);
const yAxis = d3.axisLeft(y).tickValues(yTicks).tickFormat(d3.format("d")).tickSize(9).tickPadding(9);
const styleAxis = g => {
  g.select(".domain").remove();
  g.selectAll(".tick line").attr("stroke", tickColor).attr("stroke-width", 2.2);
  g.selectAll(".tick text").attr("fill", tickColor).style("font-size", "25px")
    .style("font-family", '"DejaVu Sans", sans-serif');
};
svg.append("g").attr("transform", `translate(0,${margin.bottom})`).call(xAxis).call(styleAxis);
svg.append("g").attr("transform", `translate(${margin.left},0)`).call(yAxis).call(styleAxis);

svg.append("rect").attr("x", margin.left).attr("y", margin.top)
  .attr("width", margin.right - margin.left).attr("height", margin.bottom - margin.top)
  .attr("fill", "none").attr("stroke", frameColor).attr("stroke-width", 2.2);

// Title and axis labels
const center = (margin.left + margin.right) / 2;
svg.append("text").attr("x", center).attr("y", 83).attr("text-anchor", "middle")
  .attr("font-weight", "bold").attr("font-size", 41.67).attr("fill", "#000").text(chartTitle);
svg.append("text").attr("x", center).attr("y", 1044.5).attr("text-anchor", "middle")
  .attr("font-size", 32).attr("fill", "#2d3748").text(xLabel);
svg.append("text").attr("transform", `translate(207,${(margin.top + margin.bottom) / 2}) rotate(-90)`)
  .attr("text-anchor", "middle").attr("font-size", 32).attr("fill", "#2d3748").text(yLabel);

// Legend
const legendY = [136, 175.3, 214.3];
const legend = svg.append("g");
legendLabels.forEach((label, i) => {
  legend.append("circle").attr("cx", 311).attr("cy", legendY[i]).attr("r", 6.4)
    .attr("fill", classStyles[i].fill).attr("fill-opacity", classStyles[i].opacity);
  legend.append("text").attr("x", 358).attr("y", legendY[i] + 8)
    .attr("font-size", 26.5).attr("fill", "#000").text(label);
});

// Footer notes
svg.append("text").attr("x", 50).attr("y", 1072).attr("font-size", 20.8).attr("fill", "#a9b3bf").text(footLeft);
svg.append("text").attr("x", 1821).attr("y", 1072).attr("text-anchor", "end")
  .attr("font-size", 20.8).attr("fill", "#a9b3bf").text(footRight);
</script>
</body>
</html>
